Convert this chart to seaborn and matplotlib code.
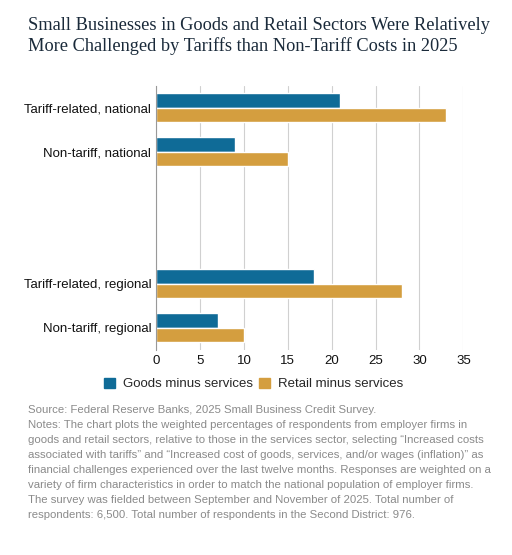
import matplotlib
matplotlib.use("Agg")
import matplotlib.pyplot as plt
import seaborn as sns
import pandas as pd

categories = ["Tariff-related, national", "Non-tariff, national",
              "Tariff-related, regional", "Non-tariff, regional"]
goods = [21, 9, 18, 7]
retail = [33, 15, 28, 10]
series = ["Goods minus services", "Retail minus services"]

df = pd.DataFrame({
    "category": categories * 2,
    "value": goods + retail,
    "series": [series[0]] * 4 + [series[1]] * 4,
})
# two blank slots make the gap between national and regional groups
order = categories[:2] + [" ", "  "] + categories[2:]

sns.set_style("white")
plt.rcParams["font.family"] = ["Liberation Sans", "DejaVu Sans"]

fig = plt.figure(figsize=(5.12, 5.55), dpi=100)
ax = fig.add_axes([0.305, 0.37, 0.6, 0.475])
sns.barplot(data=df, y="category", x="value", hue="series", order=order,
            palette=["#0f6b97", "#d49e3f"], saturation=1, width=0.66, ax=ax,
            legend=False)

ax.set_xlim(0, 35)
ax.set_xticks(range(0, 36, 5))
ax.grid(axis="x", color="#d0d0d0", linewidth=0.8)
ax.set_axisbelow(True)
for s in ["top", "right", "bottom"]:
    ax.spines[s].set_visible(False)
ax.spines["left"].set_color("#999999")
ax.set_xlabel("")
ax.set_ylabel("")
ax.tick_params(axis="both", length=0, labelsize=9.5, colors="#111111")

fig.text(0.055, 0.97, "Small Businesses in Goods and Retail Sectors Were Relatively\n"
         "More Challenged by Tariffs than Non-Tariff Costs in 2025",
         family=["Liberation Serif", "DejaVu Serif"], fontsize=13.2,
         color="#1a2a3a", va="top", linespacing=1.25)

handles = [plt.Rectangle((0, 0), 1, 1, color=c) for c in ["#0f6b97", "#d49e3f"]]
fig.legend(handles, series, loc="center", bbox_to_anchor=(0.495, 0.308), ncol=2,
           frameon=False, fontsize=9.5, handlelength=0.8, handleheight=0.8,
           handletextpad=0.6, columnspacing=0.5)

notes = ("Source: Federal Reserve Banks, 2025 Small Business Credit Survey.\n"
         "Notes: The chart plots the weighted percentages of respondents from employer firms in\n"
         "goods and retail sectors, relative to those in the services sector, selecting \u201cIncreased costs\n"
         "associated with tariffs\u201d and \u201cIncreased cost of goods, services, and/or wages (inflation)\u201d as\n"
         "financial challenges experienced over the last twelve months. Responses are weighted on a\n"
         "variety of firm characteristics in order to match the national population of employer firms.\n"
         "The survey was fielded between September and November of 2025. Total number of\n"
         "respondents: 6,500. Total number of respondents in the Second District: 976.")
fig.text(0.055, 0.27, notes, fontsize=8.2, color="#8a8a8a", va="top", linespacing=1.62)

fig.savefig("out.png", dpi=100)
